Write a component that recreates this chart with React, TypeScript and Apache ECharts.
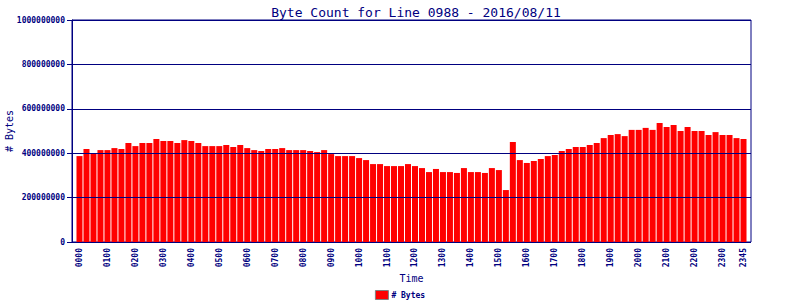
import React, { useEffect, useRef } from "react";
import * as echarts from "echarts";

const TITLE = "Byte Count for Line 0988 - 2016/08/11";
const SERIES_NAME = "# Bytes";

const times: string[] = [
  "0000", "0015", "0030", "0045", "0100", "0115", "0130", "0145",
  "0200", "0215", "0230", "0245", "0300", "0315", "0330", "0345",
  "0400", "0415", "0430", "0445", "0500", "0515", "0530", "0545",
  "0600", "0615", "0630", "0645", "0700", "0715", "0730", "0745",
  "0800", "0815", "0830", "0845", "0900", "0915", "0930", "0945",
  "1000", "1015", "1030", "1045", "1100", "1115", "1130", "1145",
  "1200", "1215", "1230", "1245", "1300", "1315", "1330", "1345",
  "1400", "1415", "1430", "1445", "1500", "1515", "1530", "1545",
  "1600", "1615", "1630", "1645", "1700", "1715", "1730", "1745",
  "1800", "1815", "1830", "1845", "1900", "1915", "1930", "1945",
  "2000", "2015", "2030", "2045", "2100", "2115", "2130", "2145",
  "2200", "2215", "2230", "2245", "2300", "2315", "2330", "2345",
];

const byteCounts: number[] = [
  387000000, 419000000, 401000000, 414000000, 414000000, 423000000, 419000000, 446000000,
  432000000, 446000000, 446000000, 464000000, 455000000, 455000000, 446000000, 459000000,
  455000000, 446000000, 432000000, 432000000, 432000000, 437000000, 428000000, 437000000,
  423000000, 414000000, 410000000, 419000000, 419000000, 423000000, 414000000, 414000000,
  414000000, 410000000, 405000000, 414000000, 396000000, 387000000, 387000000, 387000000,
  378000000, 369000000, 351000000, 351000000, 342000000, 342000000, 342000000, 351000000,
  342000000, 333000000, 315000000, 329000000, 315000000, 315000000, 311000000, 333000000,
  315000000, 315000000, 311000000, 333000000, 324000000, 234000000, 450000000, 369000000,
  356000000, 365000000, 374000000, 387000000, 392000000, 410000000, 419000000, 428000000,
  428000000, 437000000, 446000000, 468000000, 482000000, 486000000, 477000000, 505000000,
  505000000, 514000000, 505000000, 536000000, 518000000, 527000000, 500000000, 518000000,
  500000000, 500000000, 482000000, 495000000, 482000000, 482000000, 468000000, 464000000,
];

const yTicks = { min: 0, max: 1000000000, interval: 200000000 };

const NAVY = "#000080";
const MONO = "'DejaVu Sans Mono', 'Liberation Mono', monospace";

export default function App() {
  const ref = useRef<HTMLDivElement>(null);

  useEffect(() => {
    document.body.style.margin = "0";
    if (!ref.current) return;
    const chart = echarts.init(ref.current, undefined, { renderer: "svg" });
    const lastIdx = times.length - 1;
    chart.setOption({
      animation: false,
      backgroundColor: "#ffffff",
      title: {
        text: TITLE,
        left: 411,
        top: 1,
        textAlign: "center",
        textStyle: { fontFamily: MONO, fontSize: 13, fontWeight: "normal", color: NAVY },
      },
      legend: {
        data: [SERIES_NAME],
        top: 290,
        left: "center",
        padding: 0,
        icon: "rect",
        itemWidth: 13,
        itemHeight: 9,
        textStyle: {
          fontFamily: MONO,
          fontSize: 8,
          lineHeight: 9,
          fontWeight: "bold",
          color: NAVY,
          padding: [0, 0, 0, -2],
        },
        itemStyle: { borderColor: "#808080", borderWidth: 1 },
      },
      grid: [
        {
          left: 72, top: 20, width: 679, height: 222,
          outerBoundsMode: "none", containLabel: false,
          show: true, borderColor: NAVY, borderWidth: 1, backgroundColor: "transparent",
        },
        { left: 76, top: 20, width: 671, height: 222, outerBoundsMode: "none", containLabel: false },
      ],
      xAxis: [
        { type: "value", gridIndex: 0, min: 0, max: 1, show: false },
        {
          type: "category",
          gridIndex: 1,
          data: times,
          axisLine: { show: false },
          axisTick: { show: false },
          axisLabel: {
            rotate: 90,
            margin: 6,
            interval: (idx: number) => idx % 4 === 0 || idx === lastIdx,
            fontFamily: MONO,
            fontSize: 8,
            fontWeight: "bold",
            color: NAVY,
          },
          name: "Time",
          nameLocation: "middle",
          nameGap: 31,
          nameMoveOverlap: false,
          nameTextStyle: { fontFamily: MONO, fontSize: 10, color: NAVY },
        },
      ],
      yAxis: [
        {
          type: "value",
          gridIndex: 0,
          position: "left",
          min: yTicks.min,
          max: yTicks.max,
          interval: yTicks.interval,
          z: 5,
          axisLine: { show: true, onZero: false, lineStyle: { color: NAVY, width: 1 } },
          axisTick: { show: true, length: 5, lineStyle: { color: NAVY } },
          splitLine: { show: true, lineStyle: { color: NAVY, width: 1 } },
          axisLabel: {
            margin: 7,
            formatter: (v: number) => String(v),
            fontFamily: MONO,
            fontSize: 8,
            fontWeight: "bold",
            color: NAVY,
          },
          name: "# Bytes",
          nameLocation: "middle",
          nameGap: 58,
          nameMoveOverlap: false,
          nameTextStyle: { fontFamily: MONO, fontSize: 10, color: NAVY },
        },
        { type: "value", gridIndex: 1, min: yTicks.min, max: yTicks.max, show: false },
      ],
      series: [
        {
          name: SERIES_NAME,
          type: "bar",
          xAxisIndex: 1,
          yAxisIndex: 1,
          data: byteCounts,
          barCategoryGap: "14%",
          itemStyle: { color: "#ff0000" },
        },
      ],
    });
    return () => chart.dispose();
  }, []);

  return <div ref={ref} style={{ width: 800, height: 300 }} />;
}
